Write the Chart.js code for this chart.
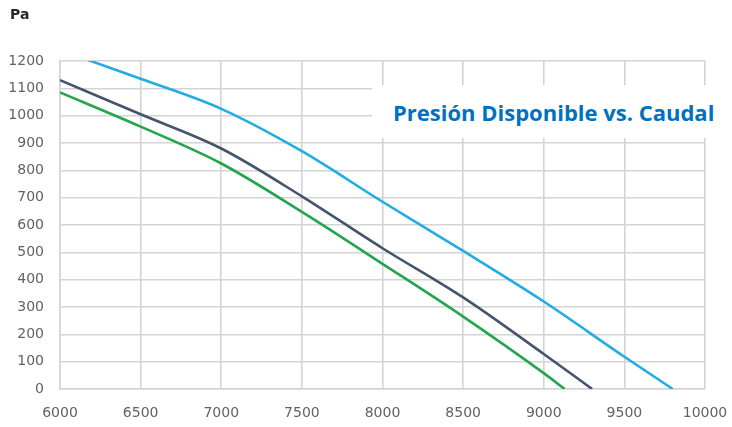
<!DOCTYPE html>
<html lang="es">

<head>
    <meta charset="UTF-8">
    <title>Presión Disponible vs. Caudal</title>
    <script src="https://cdnjs.cloudflare.com/ajax/libs/Chart.js/4.4.1/chart.umd.min.js"></script>
    <style>
        body {
            margin: 0;
            background: #fff;
        }

        .wrap {
            position: relative;
            width: 732px;
            height: 427px;
        }

        .unit {
            position: absolute;
            left: 10px;
            top: 6px;
            font-family: "DejaVu Sans", sans-serif;
            font-weight: bold;
            font-size: 14px;
            color: #262626;
        }

        .chart-title {
            position: absolute;
            left: 372px;
            top: 85px;
            width: 335px;
            height: 53px;
            padding-left: 21px;
            background: #fff;
            display: flex;
            align-items: center;
            font-family: "Open Sans", sans-serif;
            font-weight: bold;
            font-size: 22px;
            color: #0070c0;
            white-space: nowrap;
        }
    </style>
</head>

<body>
    <div class="wrap">
        <canvas id="curveChart" width="732" height="427"></canvas>
        <div class="unit">Pa</div>
        <div class="chart-title">Presión Disponible vs. Caudal</div>
    </div>

    <script>
        // Caudal (x) and presión (Pa)
        const flowBlue = [6000, 6500, 7000, 7500, 8000, 8500, 9000, 9500, 9800];
        const presBlue = [1240, 1135, 1025, 870, 685, 505, 320, 118, 0];

        const flowDark = [6000, 6500, 7000, 7500, 8000, 8500, 9000, 9300];
        const presDark = [1130, 1005, 880, 705, 515, 335, 128, 0];

        const flowGreen = [6000, 6500, 7000, 7500, 8000, 8500, 9000, 9130];
        const presGreen = [1085, 960, 825, 648, 458, 265, 58, 0];

        const X_MIN = 6000, X_MAX = 10000, X_STEP = 500;
        const Y_MIN = 0, Y_MAX = 1200, Y_STEP = 100;

        function toPoints(xs, ys) {
            return xs.map((x, i) => ({ x: x, y: ys[i] }));
        }

        function curve(xs, ys, color) {
            return {
                data: toPoints(xs, ys),
                borderColor: color,
                borderWidth: 2.6,
                pointRadius: 0,
                cubicInterpolationMode: 'monotone',
                fill: false
            };
        }

        const tickFont = { family: '"DejaVu Sans", sans-serif', size: 14 };
        const gridColor = '#d4d4d4';

        new Chart(document.getElementById('curveChart'), {
            type: 'line',
            data: {
                datasets: [
                    curve(flowGreen, presGreen, '#22a64c'),
                    curve(flowDark, presDark, '#44546a'),
                    curve(flowBlue, presBlue, '#21ace3')
                ]
            },
            options: {
                responsive: false,
                animation: false,
                layout: { padding: { top: 61, right: 0, left: 0, bottom: 0 } },
                plugins: {
                    legend: { display: false },
                    tooltip: { enabled: false }
                },
                scales: {
                    x: {
                        type: 'linear',
                        min: X_MIN,
                        max: X_MAX,
                        ticks: {
                            stepSize: X_STEP,
                            color: '#626262',
                            font: tickFont,
                            padding: 16,
                            maxRotation: 0,
                            callback: v => String(v)
                        },
                        grid: { color: gridColor, lineWidth: 1.6, drawTicks: false },
                        border: { color: gridColor, width: 1.6 },
                        // pin the plot area: labels may overhang into the margins
                        afterFit: s => {
                            s.height = 38;
                            s.paddingLeft = 0;
                            s.paddingRight = 27;
                        }
                    },
                    y: {
                        min: Y_MIN,
                        max: Y_MAX,
                        ticks: {
                            stepSize: Y_STEP,
                            color: '#626262',
                            font: tickFont,
                            padding: 16,
                            callback: v => String(v)
                        },
                        grid: { color: gridColor, lineWidth: 1.6, drawTicks: false },
                        border: { color: gridColor, width: 1.6 },
                        afterFit: s => { s.width = 60; }
                    }
                }
            }
        });
    </script>
</body>

</html>
